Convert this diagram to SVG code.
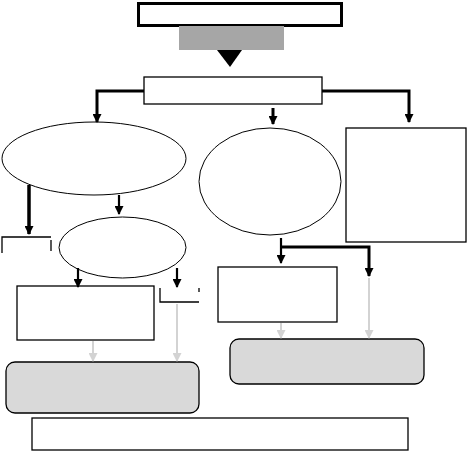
<svg xmlns="http://www.w3.org/2000/svg" width="467" height="451" viewBox="0 0 467 451">
<defs>
<style>
.box{fill:#fff;stroke:#000;stroke-width:1.3}
.gbox{fill:#d9d9d9;stroke:#000;stroke-width:1.3}
.ell{fill:#fff;stroke:#000;stroke-width:1}
.k{fill:none;stroke:#000;stroke-width:3}
.k2{fill:none;stroke:#000;stroke-width:2.2}
.g{fill:none;stroke:#d3d3d3;stroke-width:2}
.thin{fill:none;stroke:#000;stroke-width:1.3}
</style>
<marker id="ak" markerUnits="userSpaceOnUse" markerWidth="9" markerHeight="9" refX="8" refY="4.5" orient="auto"><path d="M0,0 L9,4.5 L0,9 z" fill="#000"/></marker>
<marker id="ag" markerUnits="userSpaceOnUse" markerWidth="9" markerHeight="9" refX="8" refY="4.5" orient="auto"><path d="M0,0 L9,4.5 L0,9 z" fill="#d3d3d3"/></marker>
</defs>
<g id="title"><rect x="138.5" y="3.5" width="203" height="22" fill="#fff" stroke="#000" stroke-width="3"/></g>
<g id="gray-bar"><rect x="179" y="26" width="105" height="24" fill="#a6a6a6"/></g>
<g id="triangle"><polygon points="217,50 242,50 230,67" fill="#000"/></g>
<g id="box-main"><rect class="box" x="144" y="77" width="178" height="27"/></g>
<g id="ellipse-left"><ellipse class="ell" cx="94" cy="158.5" rx="92" ry="36.5"/></g>
<g id="ellipse-mid"><ellipse class="ell" cx="270" cy="181.5" rx="71" ry="53.5"/></g>
<g id="box-right"><rect class="box" x="346" y="128" width="120" height="114"/></g>
<g id="bracket-left"><path class="thin" d="M2,253 V237 H51 M51,240 V251"/></g>
<g id="ellipse-small"><ellipse class="ell" cx="122.5" cy="247.5" rx="63.5" ry="30.5"/></g>
<g id="box-lower-left"><rect class="box" x="17" y="286" width="137" height="54"/></g>
<g id="bracket-small"><path class="thin" d="M160,288 V302 H199 M199,288 V292"/></g>
<g id="box-lower-mid"><rect class="box" x="218" y="267" width="119" height="55"/></g>
<g id="result-left"><rect class="gbox" x="6" y="362" width="193" height="51" rx="9"/></g>
<g id="result-right"><rect class="gbox" x="230" y="339" width="194" height="45" rx="9"/></g>
<g id="footer"><rect class="box" x="32" y="418" width="376" height="32"/></g>
<g id="connectors">
<path class="k" d="M144,91 H97 V122" marker-end="url(#ak)"/>
<path class="k" d="M273,108 V124" marker-end="url(#ak)"/>
<path class="k" d="M322,91 H409 V122" marker-end="url(#ak)"/>
<path class="k" d="M29,185 V234" marker-end="url(#ak)" style="stroke-width:3.5"/>
<path class="k2" d="M119,195 V214" marker-end="url(#ak)"/>
<path class="k2" d="M78,268 V287" marker-end="url(#ak)"/>
<path class="k2" d="M177,268 V287" marker-end="url(#ak)"/>
<path class="k2" d="M281,238 V263" marker-end="url(#ak)"/>
<path class="k" d="M281,247 H369 V276" marker-end="url(#ak)"/>
<path class="g" d="M93,341 V361" marker-end="url(#ag)"/>
<path class="g" d="M177,304 V361" marker-end="url(#ag)"/>
<path class="g" d="M281,323 V338" marker-end="url(#ag)"/>
<path class="g" d="M369,278 V338" marker-end="url(#ag)"/>
</g>
</svg>
